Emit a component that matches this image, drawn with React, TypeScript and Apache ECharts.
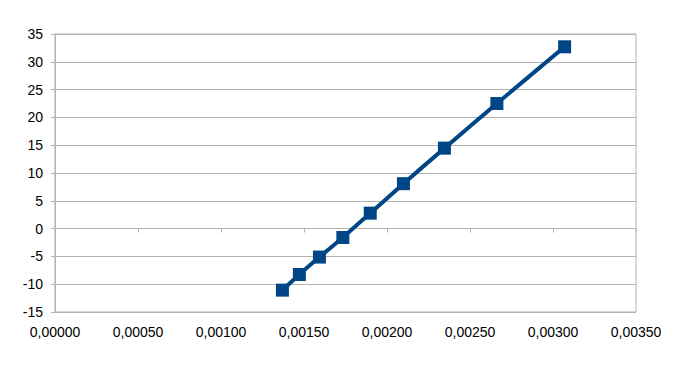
import React, { useEffect, useRef } from "react";
import * as echarts from "echarts";

const xValues = [0.00137, 0.001472, 0.001593, 0.001734, 0.001899, 0.002099, 0.002346, 0.002662, 0.00307];
const yValues = [-11.07, -8.26, -5.12, -1.6, 2.78, 8.08, 14.47, 22.5, 32.7];
const xTicks = { min: 0, max: 0.0035, interval: 0.0005 };
const yTicks = { min: -15, max: 35, interval: 5 };

const fmtX = (v: number) => v.toFixed(5).replace(".", ",");

export default function App() {
  const ref = useRef<HTMLDivElement>(null);
  useEffect(() => {
    if (!ref.current) return;
    const chart = echarts.init(ref.current, undefined, { renderer: "svg" });
    const grey = "#b3b3b3";
    const font = { fontFamily: "Liberation Sans", fontSize: 14, color: "#000" };
    chart.setOption({
      animation: false,
      backgroundColor: "#fff",
      grid: {
        left: 55,
        right: 47,
        top: 34,
        bottom: 56,
        show: true,
        borderColor: grey,
        borderWidth: 1,
      },
      xAxis: [
        {
          type: "value",
          position: "bottom",
          ...xTicks,
          axisLine: { show: false, onZero: false },
          axisTick: { show: false },
          splitLine: { show: false },
          axisLabel: { ...font, margin: 13, formatter: fmtX },
        },
        {
          type: "value",
          position: "bottom",
          ...xTicks,
          axisLine: { show: true, onZero: true, lineStyle: { color: grey } },
          axisTick: { show: true, length: 4, lineStyle: { color: grey } },
          splitLine: { show: false },
          axisLabel: { show: false },
        },
      ],
      yAxis: {
        type: "value",
        ...yTicks,
        axisLine: { show: true, lineStyle: { color: grey } },
        axisTick: { show: true, length: 4, lineStyle: { color: grey } },
        splitLine: { show: true, lineStyle: { color: grey } },
        axisLabel: { ...font, margin: 12 },
      },
      series: [
        {
          type: "line",
          xAxisIndex: 0,
          data: xValues.map((x, i) => [x, yValues[i]]),
          smooth: 0.2,
          lineStyle: { color: "#004586", width: 4 },
          itemStyle: { color: "#004586" },
          symbol: "rect",
          symbolSize: 13,
          z: 5,
        },
      ],
    });
    return () => chart.dispose();
  }, []);
  return <div ref={ref} style={{ width: 683, height: 368, position: "absolute", left: 0, top: 0 }} />;
}
